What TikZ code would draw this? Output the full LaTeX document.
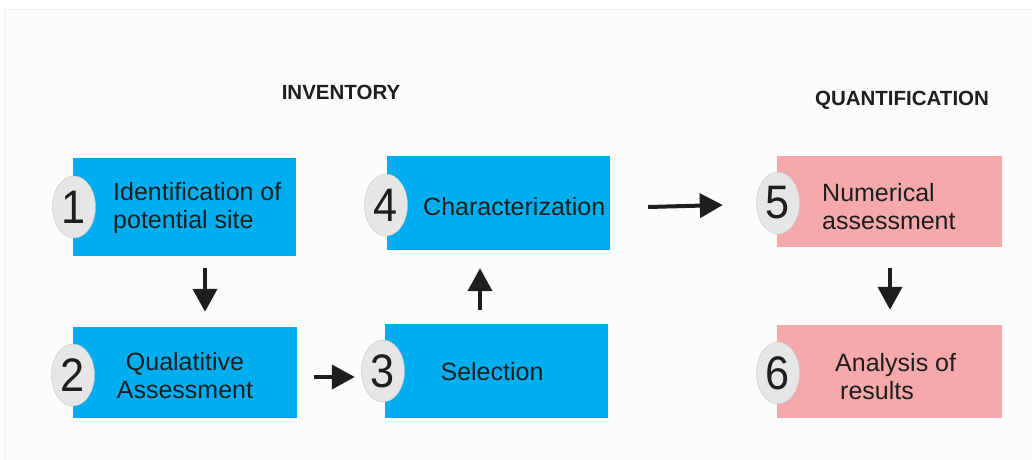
\documentclass[tikz,border=0pt]{standalone}
\usepackage{fontspec}
\setmainfont{Liberation Sans}
\newfontfamily\digitfont[FakeStretch=0.92]{Liberation Sans}
\usetikzlibrary{shapes.geometric,arrows.meta,calc}
\definecolor{boxblue}{HTML}{00AEEF}
\definecolor{boxpink}{HTML}{F6A9AB}
\definecolor{ovalgray}{HTML}{E6E6E6}
\definecolor{framegray}{HTML}{EFEFEF}
\definecolor{bggray}{HTML}{FCFCFC}
\definecolor{txt}{HTML}{1E1E1E}
\begin{document}
\begin{tikzpicture}[x=1pt,y=-1pt,
  bluebox/.style={rectangle, fill=boxblue, inner sep=0pt},
  pinkbox/.style={rectangle, fill=boxpink, inner sep=0pt},
  num/.style={ellipse, fill=ovalgray, draw=gray!45, line width=0.4pt, minimum width=43pt, minimum height=62pt, inner sep=0pt, text=txt, font=\digitfont\fontsize{47}{47}\selectfont},
  lbl/.style={font=\fontsize{25}{28}\selectfont, inner sep=0pt, text=txt},
  head/.style={font=\bfseries\fontsize{20.5}{24}\selectfont, inner sep=0pt, text=txt},
  arr/.style={line width=4pt, draw=txt, -{Triangle[length=23pt,width=24pt]}}
]
\useasboundingbox (0,0) rectangle (1032,459);
\draw[draw=framegray, fill=bggray, line width=0.8pt] (4,9) rectangle (1040,470);

% boxes
\node[bluebox, minimum width=223pt, minimum height=98pt] (b1) at (184.5,207) {};
\node[bluebox, minimum width=224pt, minimum height=91pt] (b2) at (185,372.5) {};
\node[bluebox, minimum width=223pt, minimum height=94pt] (b3) at (496.5,371) {};
\node[bluebox, minimum width=223pt, minimum height=94pt] (b4) at (498.5,203) {};
\node[pinkbox, minimum width=225pt, minimum height=91pt] (b5) at (889.5,201.5) {};
\node[pinkbox, minimum width=225pt, minimum height=93pt] (b6) at (889.5,371.5) {};

% numbers
\node[num] (n1) at (74,207) {1};
\node[num] (n2) at (73,375) {2};
\node[num] (n3) at (383,371) {3};
\node[num] (n4) at (386,205) {4};
\node[num] (n5) at (778,203) {5};
\node[num] (n6) at (778,373) {6};

% labels
\node[lbl, anchor=west, align=left] (t1) at (113,208) {Identification of\\potential site};
\node[lbl, align=center] (t2) at (185,376) {Qualatitive\\Assessment};
\node[lbl] (t3) at (492,372) {Selection};
\node[lbl, anchor=west] (t4) at (423,207) {Characterization};
\node[lbl, anchor=west, align=left] (t5) at (822,207) {Numerical\\assessment};
\node[lbl, anchor=west, align=left] (t6) at (835,377) {Analysis of\\\hspace*{5pt}results};

% headers
\node[head] (h1) at (341,92) {INVENTORY};
\node[head] (h2) at (902,100) {QUANTIFICATION};

% arrows
\draw[arr] ($(b1.south)+(20.5,12)$) -- ($(b2.north)+(20,-15)$);
\draw[arr] ($(b2.east)+(17,4.5)$) -- ($(b3.west)+(-30,6)$);
\draw[arr] ($(b3.north)+(-16.5,-14)$) -- ($(b4.south)+(-18.5,18)$);
\draw[arr] ($(b4.east)+(38,4)$) -- ($(b5.west)+(-54,3.5)$);
\draw[arr] ($(b5.south)+(0.5,21)$) -- ($(b6.north)+(0.5,-15)$);
\end{tikzpicture}
\end{document}
